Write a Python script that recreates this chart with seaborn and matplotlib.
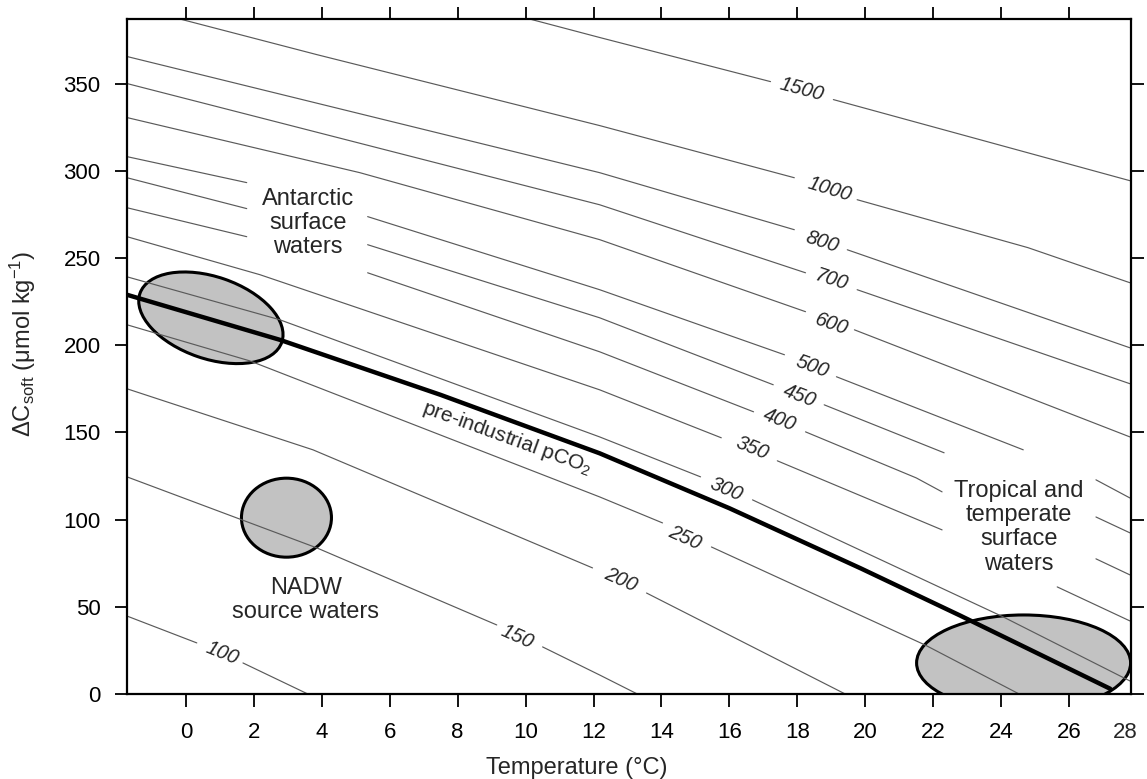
import numpy as np
import matplotlib
matplotlib.use('Agg')
import matplotlib.pyplot as plt
import matplotlib.transforms as mtransforms
from matplotlib.patches import Ellipse
import seaborn as sns

nan = np.nan

# pCO2 isolines: temperature (°C) and delta C_soft (umol/kg),
# nan marks where the line is broken for a label or a text block
T_1500 = [10.06, 12.18, 17.21, nan, 19.06, 27.79]
C_1500 = [387.3, 376.4, 351.1, nan, 340.8, 294.3]

T_1000 = [-0.235, 3.85, 12.18, 17.91, nan, 19.76, 24.79, 27.79]
C_1000 = [387.3, 366.6, 325.9, 296.0, nan, 283.4, 255.9, 235.8]

T_800 = [-1.735, 12.18, 17.91, nan, 19.47, 27.79]
C_800 = [365.5, 298.9, 266.2, nan, 254.7, 198.5]

T_700 = [-1.735, 12.18, 18.24, nan, 19.76, 27.79]
C_700 = [350.0, 280.5, 241.5, nan, 231.8, 177.9]

T_600 = [-1.735, 5.12, 12.18, 18.24, nan, 19.68, 27.79]
C_600 = [330.5, 298.9, 260.5, 219.2, nan, 208.8, 147.4]

T_500 = [-1.735, 1.79, nan, 5.35, 12.18, 17.62, nan, 19.15, 24.65, nan, 26.79, 27.79]
C_500 = [308.1, 293.2, nan, 273.7, 231.8, 194.5, nan, 181.9, 140.0, nan, 122.8, 112.4]

T_450 = [-1.735, 1.79, nan, 5.35, 12.18, 17.29, nan, 18.79, 22.32, nan, 26.79, 27.79]
C_450 = [296.0, 278.3, nan, 257.6, 215.7, 177.3, nan, 165.8, 138.3, nan, 101.5, 92.4]

T_400 = [-1.735, 1.79, nan, 5.35, 12.18, 16.71, nan, 18.24, 21.50, 22.26, nan, 26.79, 27.79]
C_400 = [278.8, 262.2, nan, 241.5, 196.2, 161.8, nan, 150.3, 123.9, 115.9, nan, 77.5, 68.3]

T_350 = [-1.735, 2.18, 12.18, 15.76, nan, 17.41, 22.26, nan, 25.65, 27.79]
C_350 = [262.2, 240.4, 174.4, 146.9, nan, 133.7, 94.1, nan, 61.4, 41.9]

T_300 = [-1.735, 2.76, 12.18, 15.15, nan, 16.68, 24.06, 27.79]
C_300 = [239.2, 214.6, 147.4, 124.5, nan, 111.3, 44.2, 7.5]

T_250 = [-1.735, 1.88, 12.18, 14.03, nan, 15.47, 21.76, 24.53]
C_250 = [211.7, 191.0, 113.0, 98.1, nan, 84.3, 28.1, 0.0]

T_200 = [-1.735, 3.74, 11.97, nan, 13.56, 19.41]
C_200 = [175.0, 140.0, 72.3, nan, 57.9, 0.0]

T_150 = [-1.735, 3.85, 9.15, nan, 10.50, 12.18, 13.29]
C_150 = [124.5, 83.8, 39.6, nan, 27.0, 10.9, 0.0]

T_100 = [-1.735, 0.32, nan, 1.68, 3.59]
C_100 = [44.7, 29.3, nan, 17.8, 0.0]

# pre-industrial pCO2 line
T_preind = [-1.735, 2.76, 7.5, 12.18, 16.0, 19.87, 22.79, 27.21]
C_preind = [228.9, 203.1, 171.5, 138.0, 106.5, 72.0, 45.0, 3.0]

# isoline labels
label_text = ['1500', '1000', '800', '700', '600', '500', '450', '400',
              '350', '300', '250', '200', '150', '100']
label_T = [18.12, 18.94, 18.74, 19.0, 19.0, 18.44, 18.06, 17.47,
           16.68, 15.91, 14.68, 12.79, 9.76, 1.06]
label_C = [346.5, 289.2, 259.3, 237.5, 211.7, 187.6, 171.0, 157.2,
           141.1, 117.0, 89.5, 65.4, 32.7, 23.5]
label_rot = [-15, -17, -18, -18, -19, -20, -21, -21, -22, -23, -24, -24, -24, -22]

# water mass regions (centre in data units)
region_T = [0.735, 2.96, 24.66]
region_C = [215.7, 101.1, 17.8]

x_ticks = np.arange(0, 27, 2)
y_ticks = np.arange(0, 351, 50)

isolines = [(T_1500, C_1500), (T_1000, C_1000), (T_800, C_800), (T_700, C_700),
            (T_600, C_600), (T_500, C_500), (T_450, C_450), (T_400, C_400),
            (T_350, C_350), (T_300, C_300), (T_250, C_250), (T_200, C_200),
            (T_150, C_150), (T_100, C_100)]

sns.set_theme(style='ticks')
plt.rcParams['font.family'] = ['Liberation Sans', 'DejaVu Sans']
plt.rcParams['mathtext.fontset'] = 'custom'
plt.rcParams['mathtext.rm'] = 'Liberation Sans'
plt.rcParams['mathtext.it'] = 'Liberation Sans:italic'
plt.rcParams['mathtext.default'] = 'regular'

fig = plt.figure(figsize=(11.47, 7.79), dpi=100)
ax = fig.add_axes([0.1107, 0.1091, 0.8753, 0.8665])

# shaded regions, sized in inches so they keep their drawn shape
ell_w = [1.50, 0.90, 2.14]
ell_h = [0.82, 0.79, 0.96]
ell_ang = [-19, 0, 0]
for cx, cy, w, h, a in zip(region_T, region_C, ell_w, ell_h, ell_ang):
    tr = fig.dpi_scale_trans + mtransforms.ScaledTranslation(cx, cy, ax.transData)
    ax.add_patch(Ellipse((0, 0), w, h, angle=a, transform=tr,
                         facecolor='#c2c2c2', edgecolor='black', lw=2.2, zorder=1))

for T, C in isolines:
    ax.plot(T, C, color='#5a5a5a', lw=0.85, zorder=2)

sns.lineplot(x=T_preind, y=C_preind, ax=ax, color='black', lw=3.2,
             sort=False, estimator=None, zorder=4)

for s, t, c, r in zip(label_text, label_T, label_C, label_rot):
    ax.text(t, c, s, rotation=r, ha='center', va='center', fontsize=14.5,
            fontstyle='italic', rotation_mode='anchor', zorder=5)

ax.text(9.44, 146.9, 'pre-industrial pCO$_2$', rotation=-20, ha='center', va='center',
        fontsize=15, rotation_mode='anchor', zorder=5)
ax.text(3.59, 270.2, 'Antarctic\nsurface\nwaters', ha='center', va='center',
        fontsize=17, linespacing=1.12, zorder=5)
ax.text(3.53, 53.9, 'NADW\nsource waters', ha='center', va='center',
        fontsize=17, linespacing=1.12, zorder=5)
ax.text(24.53, 95.5, 'Tropical and\ntemperate\nsurface\nwaters', ha='center', va='center',
        fontsize=17, linespacing=1.12, zorder=5)

ax.set_xticks(x_ticks)
ax.set_yticks(y_ticks)
ax.tick_params(axis='x', direction='out', length=9, width=1.3, pad=11, labelsize=16,
               top=True, bottom=True, colors='black')
ax.tick_params(axis='y', direction='out', length=9, width=1.3, pad=10, labelsize=16,
               left=True, right=True, colors='black')
for sp in ax.spines.values():
    sp.set_linewidth(1.6)
    sp.set_color('black')

# the 28 label sits at the right end of the axis, without a tick
ax.text(27.65, 0, '28', fontsize=16, ha='center', va='top',
        transform=mtransforms.offset_copy(ax.get_xaxis_transform(), fig=fig,
                                          y=-20, units='points'))

ax.set_xlabel('Temperature (°C)', fontsize=17)
ax.set_ylabel('ΔC$_{soft}$ (μmol kg$^{-1}$)', fontsize=17)
ax.xaxis.set_label_coords(0.448, -0.093)
ax.yaxis.set_label_coords(-0.089, 0.5185)

ax.set_xlim(-1.735, 27.82)
ax.set_ylim(0, 387)

fig.savefig('out.png', dpi=100)
